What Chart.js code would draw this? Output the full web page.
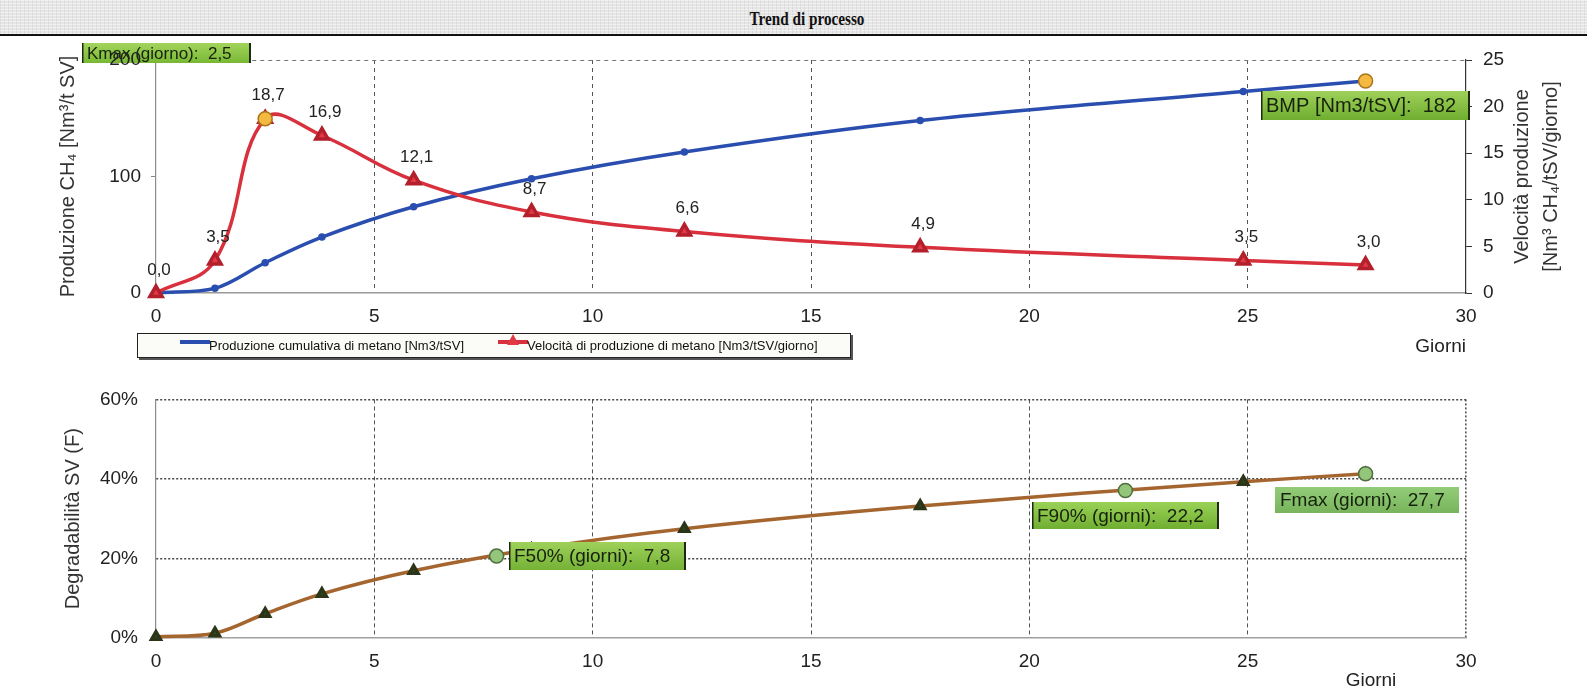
<!DOCTYPE html>
<html>
<head>
<meta charset="utf-8">
<script src="https://cdn.jsdelivr.net/npm/chart.js@4.4.1/dist/chart.umd.min.js"></script>
<style>
html, body { margin: 0; padding: 0; background: #fff; }
body { width: 1587px; height: 691px; position: relative; overflow: hidden; font-family: "Liberation Sans", Arial, sans-serif; }
#head {
    position: absolute; left: 0; top: 0; width: 1587px; height: 34px;
    background-color: #e6e6e6;
    background-image: repeating-linear-gradient(0deg, rgba(255,255,255,.45) 0 1px, transparent 1px 3px),
                      repeating-linear-gradient(90deg, rgba(0,0,0,.06) 0 1px, transparent 1px 4px);
    border-bottom: 2px solid #111;
}
#head span {
    position: absolute; left: 807px; top: 8px; transform: translateX(-50%) scaleX(0.8);
    font: bold 19px "Liberation Serif", "Times New Roman", serif; color: #111; white-space: nowrap;
}
#c1 { position: absolute; left: 0; top: 36px; }
#c2 { position: absolute; left: 0; top: 370px; }
#legend {
    position: absolute; left: 137px; top: 333px; width: 712px; height: 23px;
    border: 1px solid #222; box-shadow: 2px 2px 0 #555; background: #fbfbf7;
    font: 13px "Liberation Sans", Arial, sans-serif; color: #111; z-index: 2;
}
#legend .item { position: absolute; top: 4px; white-space: nowrap; line-height: 15px; }
#legend .ln { position: absolute; top: 6px; width: 30px; height: 4px; }
#legend .blue { background: #2a4eb0; }
#legend .red { background: #d8303c; }
#legend .tri { position: absolute; left: 9px; top: -6px; width: 0; height: 0;
    border-left: 6px solid transparent; border-right: 6px solid transparent; border-bottom: 11px solid #e23a44; }
</style>
</head>
<body>
<div id="head"><span>Trend di processo</span></div>
<canvas id="c1" width="1587" height="334"></canvas>
<canvas id="c2" width="1587" height="321"></canvas>
<div id="legend">
    <span class="ln blue" style="left:42px"></span>
    <span class="item" style="left:71px">Produzione cumulativa di metano [Nm3/tSV]</span>
    <span class="ln red" style="left:360px"><i class="tri"></i></span>
    <span class="item" style="left:389px">Velocità di produzione di metano [Nm3/tSV/giorno]</span>
</div>
<script>
// sampling days (giorni)
var days = [0, 1.35, 2.5, 3.8, 5.9, 8.6, 12.1, 17.5, 24.9, 27.7];
// cumulative methane production [Nm3/tSV]
var cumulative = [0, 4, 26, 48, 74, 98, 121, 148, 173, 182];
// methane production rate [Nm3/tSV/giorno]
var rate = [0.0, 3.5, 18.7, 16.9, 12.1, 8.7, 6.6, 4.9, 3.5, 3.0];
// degradability SV (F) [%]
var degradability = [0.3, 1.2, 6.1, 11.1, 16.9, 22.3, 27.5, 33.2, 39.3, 41.3];

var kmaxDay = 2.5, kmaxRate = 18.7;
var bmpDay = 27.7, bmpValue = 182;
var fDays = [7.8, 22.2, 27.7];
var fValues = [20.6, 37.1, 41.3];
var fLabels = ['F50% (giorni):  7,8', 'F90% (giorni):  22,2', 'Fmax (giorni):  27,7'];

var xTicks = [0, 5, 10, 15, 20, 25, 30];
var FONT = '"Liberation Sans", Arial, sans-serif';

Chart.defaults.font.family = FONT;
Chart.defaults.color = '#222';

function pts(xs, ys) {
    return xs.map(function (x, i) { return { x: x, y: ys[i] }; });
}
function comma(v) {
    return v.toFixed(1).replace('.', ',');
}

// green boxes attached to a data point
function tagBoxes(items) {
    return {
        id: 'tagBoxes',
        afterDatasetsDraw: function (chart) {
            var ctx = chart.ctx;
            items.forEach(function (t) {
                var p = chart.getDatasetMeta(t.dataset).data[t.index];
                var x = Math.round(p.x + t.dx), y = Math.round(p.y + t.dy);
                ctx.save();
                var g = ctx.createLinearGradient(0, y, 0, y + t.h);
                g.addColorStop(0, t.light);
                g.addColorStop(1, t.dark);
                ctx.fillStyle = g;
                ctx.fillRect(x, y, t.w, t.h);
                if (t.edge) {
                    ctx.fillStyle = '#1e2a12';
                    ctx.fillRect(x, y, 1.5, t.h);
                    ctx.fillRect(x + t.w - 2, y, 2, t.h);
                }
                ctx.font = t.font;
                ctx.fillStyle = '#17210d';
                ctx.textAlign = 'left';
                ctx.textBaseline = 'middle';
                ctx.fillText(t.text, x + 5, y + t.h / 2 + 1);
                ctx.restore();
            });
        }
    };
}

var rateLabels = {
    id: 'rateLabels',
    afterDatasetsDraw: function (chart) {
        var ctx = chart.ctx;
        var meta = chart.getDatasetMeta(1);
        ctx.save();
        ctx.font = '17px ' + FONT;
        ctx.fillStyle = '#222';
        ctx.textAlign = 'center';
        ctx.textBaseline = 'middle';
        meta.data.forEach(function (p, i) {
            ctx.fillText(comma(rate[i]), p.x + 3, p.y - 23);
        });
        ctx.restore();
    }
};

// right axis title reads bottom-to-top like the left one
var rightTitle = {
    id: 'rightTitle',
    afterDraw: function (chart) {
        var ctx = chart.ctx;
        var a = chart.chartArea;
        var cy = (a.top + a.bottom) / 2;
        ctx.save();
        ctx.font = '20px ' + FONT;
        ctx.fillStyle = '#333';
        ctx.textAlign = 'center';
        ctx.textBaseline = 'middle';
        [['Velocità produzione', 1522], ['[Nm³ CH₄/tSV/giorno]', 1551]].forEach(function (l) {
            ctx.save();
            ctx.translate(l[1], cy);
            ctx.rotate(-Math.PI / 2);
            ctx.fillText(l[0], 0, 0);
            ctx.restore();
        });
        ctx.restore();
    }
};

var bottomGiorni = {
    id: 'bottomGiorni',
    afterDraw: function (chart) {
        var ctx = chart.ctx;
        ctx.save();
        ctx.font = '19px ' + FONT;
        ctx.fillStyle = '#222';
        ctx.textAlign = 'center';
        ctx.textBaseline = 'middle';
        ctx.fillText('Giorni', chart.chartArea.right - 95, 311);
        ctx.restore();
    }
};

function pinTop(chart, top) {
    chart.options.layout.padding.top += top - chart.chartArea.top;
    chart.update('none');
}

var innerGrid = function (max, col) {
    return function (c) {
        return c.tick && c.tick.value > 0 && c.tick.value < max ? col : 'rgba(0,0,0,0)';
    };
};

// ---------- top chart: production ----------
var chart1 = new Chart(document.getElementById('c1'), {
    type: 'line',
    data: {
        datasets: [{
            label: 'Produzione cumulativa di metano [Nm3/tSV]',
            data: pts(days, cumulative),
            yAxisID: 'y',
            borderColor: '#2a4eb0',
            backgroundColor: '#2a4eb0',
            borderWidth: 3.5,
            pointRadius: 2,
            tension: 0.35,
            clip: false,
            order: 3
        }, {
            label: 'Velocità di produzione di metano [Nm3/tSV/giorno]',
            data: pts(days, rate),
            yAxisID: 'y1',
            borderColor: '#d8303c',
            backgroundColor: '#e23a44',
            pointBorderColor: '#b3202c',
            borderWidth: 3.5,
            pointStyle: 'triangle',
            pointRadius: 7,
            tension: 0.4,
            clip: false,
            order: 2
        }, {
            label: 'Kmax',
            data: [{ x: kmaxDay, y: kmaxRate }],
            yAxisID: 'y1',
            showLine: false,
            pointRadius: 7,
            backgroundColor: '#f5b942',
            borderColor: '#a8761a',
            borderWidth: 1.5,
            clip: false,
            order: 1
        }, {
            label: 'BMP',
            data: [{ x: bmpDay, y: bmpValue }],
            yAxisID: 'y',
            showLine: false,
            pointRadius: 7,
            backgroundColor: '#f5b942',
            borderColor: '#a8761a',
            borderWidth: 1.5,
            clip: false,
            order: 1
        }]
    },
    options: {
        responsive: false,
        animation: false,
        events: [],
        layout: { padding: { top: 24, left: 0, right: 0, bottom: 0 } },
        plugins: { legend: { display: false }, tooltip: { enabled: false } },
        scales: {
            x: {
                type: 'linear', min: 0, max: 30,
                afterBuildTicks: function (s) { s.ticks = xTicks.map(function (v) { return { value: v }; }); },
                ticks: { padding: 12, color: '#222', font: { size: 19 } },
                grid: { color: innerGrid(30, '#555'), lineWidth: 1, drawTicks: false },
                border: { color: '#999', width: 1.5, dash: [4, 4] },
                title: { display: true, text: 'Giorni', align: 'end', color: '#222', font: { size: 19 }, padding: { top: 0, bottom: 12 } },
                afterFit: function (s) { s.height = 77; }
            },
            y: {
                position: 'left', min: 0, max: 200,
                ticks: { stepSize: 100, padding: 10, color: '#222', font: { size: 19 }, z: 1 },
                grid: {
                    color: function (c) { return c.tick && c.tick.value === 200 ? '#777' : 'rgba(0,0,0,0)'; },
                    tickColor: '#888', tickLength: 5
                },
                border: { color: '#8c8c8c', width: 1.2, dash: [4, 4] },
                title: { display: true, text: 'Produzione CH₄ [Nm³/t SV]', color: '#333', font: { size: 20 }, padding: { top: 56, bottom: 0 } },
                afterFit: function (s) { s.width = 156; }
            },
            y1: {
                position: 'right', min: 0, max: 25,
                ticks: { stepSize: 5, padding: 11, color: '#222', font: { size: 19 } },
                grid: { drawOnChartArea: false, tickColor: '#333', tickLength: 6 },
                border: { color: '#333', width: 1.2 },
                afterFit: function (s) { s.width = 121; }
            }
        }
    },
    plugins: [rateLabels, rightTitle, tagBoxes([
        { dataset: 2, index: 0, text: 'Kmax (giorno):  2,5', dx: -183, dy: -76, w: 169, h: 20,
          font: '17px ' + FONT, light: '#a3d45c', dark: '#78b834', edge: true },
        { dataset: 3, index: 0, text: 'BMP [Nm3/tSV]:  182', dx: -105, dy: 10, w: 209, h: 29,
          font: '20px ' + FONT, light: '#9fd15a', dark: '#6fae2f', edge: true }
    ])]
});
pinTop(chart1, 24);

// ---------- bottom chart: degradability ----------
var chart2 = new Chart(document.getElementById('c2'), {
    type: 'line',
    data: {
        datasets: [{
            label: 'Degradabilità SV (F)',
            data: pts(days, degradability),
            borderColor: '#a5652f',
            backgroundColor: '#3c4a22',
            pointBorderColor: '#2b3518',
            borderWidth: 3.5,
            pointStyle: 'triangle',
            pointRadius: 5,
            tension: 0.35,
            clip: false,
            order: 2
        }, {
            label: 'F',
            data: pts(fDays, fValues),
            showLine: false,
            pointRadius: 7,
            backgroundColor: '#93c57a',
            borderColor: '#4f6e3e',
            borderWidth: 1.5,
            clip: false,
            order: 1
        }]
    },
    options: {
        responsive: false,
        animation: false,
        events: [],
        layout: { padding: { top: 24, left: 0, right: 0, bottom: 0 } },
        plugins: { legend: { display: false }, tooltip: { enabled: false } },
        scales: {
            x: {
                type: 'linear', min: 0, max: 30,
                afterBuildTicks: function (s) { s.ticks = xTicks.map(function (v) { return { value: v }; }); },
                ticks: { padding: 12, color: '#222', font: { size: 19 } },
                grid: {
                    color: function (c) { return c.tick && c.tick.value > 0 ? '#555' : 'rgba(0,0,0,0)'; },
                    lineWidth: function (c) { return c.tick && c.tick.value === 30 ? 1.6 : 1; },
                    drawTicks: false
                },
                border: {
                    color: '#a0a0a0', width: 1.5,
                    dash: function (c) { return c.tick && c.tick.value === 30 ? [2, 2] : [4, 3]; }
                },
                afterFit: function (s) { s.height = 53; }
            },
            y: {
                min: 0, max: 60,
                ticks: { stepSize: 20, padding: 18, color: '#222', font: { size: 19 },
                    callback: function (v) { return v + '%'; } },
                grid: { color: innerGrid(61, '#444'), lineWidth: 1.5, drawTicks: false },
                border: { color: '#8c8c8c', width: 1.2, dash: [2, 2] },
                title: { display: true, text: 'Degradabilità SV (F)', color: '#333', font: { size: 20 }, padding: { top: 61, bottom: 0 } },
                afterFit: function (s) { s.width = 156; }
            },
            yr: {
                position: 'right', min: 0, max: 60, display: true,
                ticks: { display: false },
                grid: { drawOnChartArea: false, drawTicks: false },
                border: { display: false },
                afterFit: function (s) { s.width = 121; }
            }
        }
    },
    plugins: [bottomGiorni, tagBoxes([
        { dataset: 1, index: 0, text: fLabels[0], dx: 12, dy: -14, w: 177, h: 28,
          font: '19px ' + FONT, light: '#9fd15a', dark: '#74b236', edge: true },
        { dataset: 1, index: 1, text: fLabels[1], dx: -93, dy: 12, w: 187, h: 27,
          font: '19px ' + FONT, light: '#9ad257', dark: '#6fae30', edge: true },
        { dataset: 1, index: 2, text: fLabels[2], dx: -91, dy: 13, w: 184, h: 26,
          font: '19px ' + FONT, light: '#93cc78', dark: '#78b45c', edge: false }
    ])]
});
pinTop(chart2, 24);
</script>
</body>
</html>
